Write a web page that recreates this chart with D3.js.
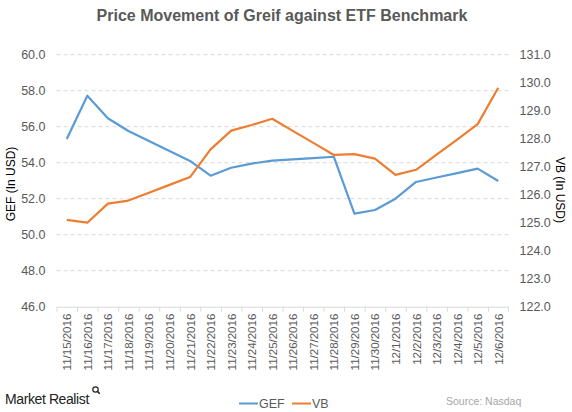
<!DOCTYPE html>
<html><head><meta charset="utf-8">
<script src="https://cdn.jsdelivr.net/npm/d3@7"></script>
<style>body{margin:0;background:#fff}svg{display:block}text{font-family:Arial,"Liberation Sans",sans-serif}</style>
</head><body><svg id="c" width="572" height="412"></svg>
<script>
const dates = ["11/15/2016","11/16/2016","11/17/2016","11/18/2016","11/19/2016","11/20/2016","11/21/2016","11/22/2016","11/23/2016","11/24/2016","11/25/2016","11/26/2016","11/27/2016","11/28/2016","11/29/2016","11/30/2016","12/1/2016","12/2/2016","12/3/2016","12/4/2016","12/5/2016","12/6/2016"];
const gef = [55.32,57.72,56.47,55.76,55.2,54.65,54.1,53.28,53.72,53.95,54.12,54.18,54.25,54.33,51.17,51.37,52.0,52.93,53.18,53.42,53.67,52.98];
const vb = [125.10,125.0,125.68,125.79,126.07,126.35,126.63,127.62,128.29,128.49,128.71,128.28,127.85,127.42,127.45,127.29,126.71,126.89,127.43,127.97,128.52,129.82];
const leftTicks = [46,48,50,52,54,56,58,60];
const rightTicks = [122,123,124,125,126,127,128,129,130,131];

const svg = d3.select("#c");
const L = 56.5, R = 508.5, T = 54.7, B = 306.7;
const x = d3.scalePoint().domain(dates).range([L, R]).padding(0.5);
const yL = d3.scaleLinear().domain([46, 60]).range([B, T]);
const yR = d3.scaleLinear().domain([122, 131]).range([B, T]);
const grey = "#595959";

// gridlines
svg.append("g").selectAll("line").data(leftTicks.slice(1)).join("line")
  .attr("x1", L).attr("x2", R).attr("y1", d => yL(d)).attr("y2", d => yL(d))
  .attr("stroke", "#d9d9d9").attr("stroke-width", 1).attr("stroke-dasharray", "4,3");

// x axis
const xa = svg.append("g").attr("transform", `translate(0,${B})`)
  .call(d3.axisBottom(x).tickSize(5).tickSizeOuter(0));
xa.select(".domain").attr("stroke", "#d9d9d9");
xa.selectAll(".tick line").attr("stroke", "#d9d9d9").attr("transform", `translate(${-x.step()/2},0)`);
xa.append("line").attr("x1", R).attr("x2", R).attr("y1", 0).attr("y2", 5).attr("stroke", "#d9d9d9");
xa.selectAll(".tick text").attr("transform", "rotate(-90)").attr("text-anchor", "end")
  .attr("x", -7).attr("y", 0).attr("dy", "0.35em").attr("fill", grey).style("font-size", "11.5px");

// left axis
const la = svg.append("g").attr("transform", `translate(${L - 11},0)`)
  .call(d3.axisLeft(yL).tickValues(leftTicks).tickFormat(d3.format(".1f")).tickSize(0));
la.select(".domain").remove();
la.selectAll("text").attr("fill", grey).style("font-size", "12.5px").attr("x", 0);

// right axis
const ra = svg.append("g").attr("transform", `translate(${R + 11},0)`)
  .call(d3.axisRight(yR).tickValues(rightTicks).tickFormat(d3.format(".1f")).tickSize(0));
ra.select(".domain").remove();
ra.selectAll("text").attr("fill", grey).style("font-size", "12.5px").attr("x", 0);

// lines
svg.append("path").datum(gef)
  .attr("d", d3.line().x((d, i) => x(dates[i])).y(d => yL(d)))
  .attr("fill", "none").attr("stroke", "#5b9bd5").attr("stroke-width", 2.2).attr("stroke-linejoin", "round");
svg.append("path").datum(vb)
  .attr("d", d3.line().x((d, i) => x(dates[i])).y(d => yR(d)))
  .attr("fill", "none").attr("stroke", "#ed7d31").attr("stroke-width", 2.2).attr("stroke-linejoin", "round");

// title
svg.append("text").attr("x", 282).attr("y", 21).attr("text-anchor", "middle")
  .attr("fill", grey).style("font-size", "16px").style("font-weight", "bold")
  .text("Price Movement of Greif against ETF Benchmark");

// axis titles
svg.append("text").attr("transform", "translate(15,184) rotate(-90)").attr("text-anchor", "middle")
  .attr("fill", "#000").style("font-size", "12px").text("GEF (In USD)");
svg.append("text").attr("transform", "translate(556,190) rotate(90)").attr("text-anchor", "middle")
  .attr("fill", "#000").style("font-size", "12px").text("VB (In USD)");

// legend
const leg = [["GEF", "#5b9bd5", 239], ["VB", "#ed7d31", 292]];
leg.forEach(([n, c, lx]) => {
  svg.append("line").attr("x1", lx).attr("x2", lx + 19).attr("y1", 403.5).attr("y2", 403.5)
    .attr("stroke", c).attr("stroke-width", 2);
  svg.append("text").attr("x", lx + 20).attr("y", 408).attr("fill", grey)
    .style("font-size", "12.5px").text(n);
});

// footer
svg.append("text").attr("x", 5).attr("y", 403.5).attr("fill", "#222")
  .style("font-size", "14px").style("letter-spacing", "-0.4px").text("Market Realist");
svg.append("circle").attr("cx", 95.5).attr("cy", 389.5).attr("r", 2.7).attr("fill", "none").attr("stroke", "#222").attr("stroke-width", 1.2);
svg.append("line").attr("x1", 97.4).attr("y1", 391.4).attr("x2", 99.8).attr("y2", 393.8).attr("stroke", "#222").attr("stroke-width", 1.5);
svg.append("text").attr("x", 446).attr("y", 405).attr("fill", "#a6a6a6")
  .style("font-size", "10.5px").text("Source: Nasdaq");
</script></body></html>
